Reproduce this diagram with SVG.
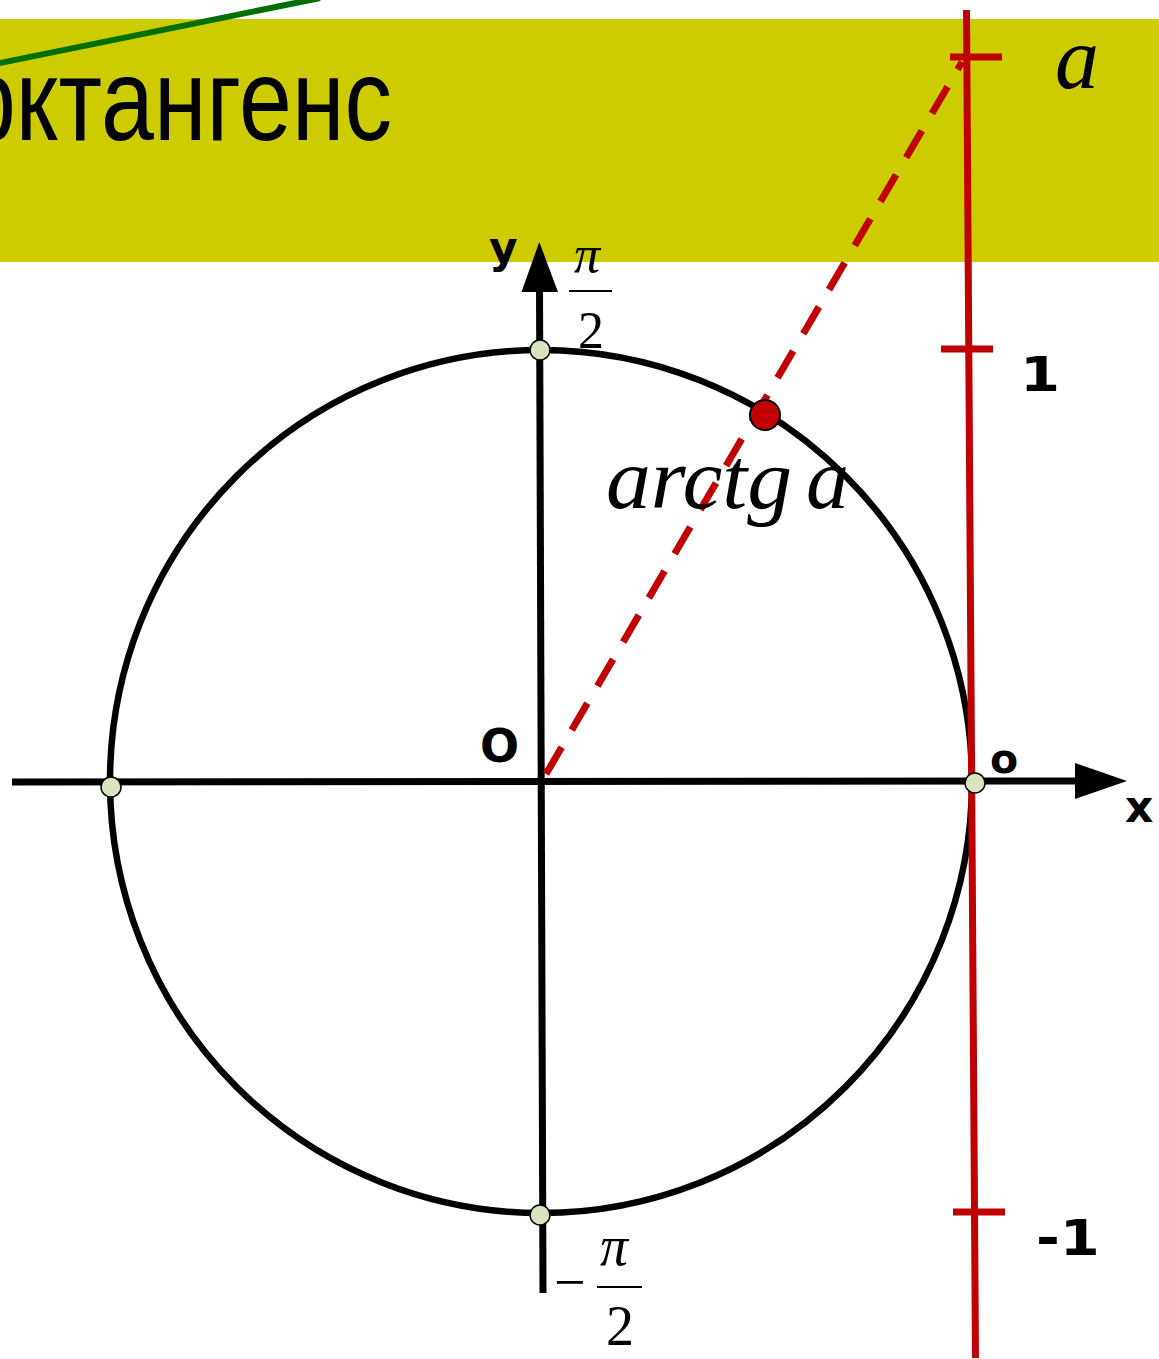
<svg xmlns="http://www.w3.org/2000/svg" width="1159" height="1359" viewBox="0 0 1159 1359">
<style>
.lbl{font-family:"DejaVu Sans",sans-serif;font-weight:bold;fill:#000}
.math{font-family:"Liberation Serif","Times New Roman",serif;fill:#000}
.it{font-style:italic}
.axis{stroke:#000;stroke-width:7;fill:none}
.red{stroke:#C00000;stroke-width:7;fill:none}
.pt{fill:#D7E4BD;stroke:#000;stroke-width:1.5}
.bar{stroke:#000;stroke-width:2}
</style>
<rect width="1159" height="1359" fill="#fff"/>
<g id="band">
<rect x="0" y="19" width="1159" height="243" fill="#CCCC00"/>
</g>
<g id="green-line">
<line x1="-10" y1="65" x2="320" y2="-2" stroke="#007000" stroke-width="6"/>
</g>
<g id="title">
<text transform="translate(392,140) scale(0.82,1)" text-anchor="end" font-family="Liberation Sans, Arial, sans-serif" font-size="116" fill="#000">рктангенс</text>
</g>
<g id="circle">
<ellipse cx="541" cy="781.5" rx="431" ry="431.5" fill="none" stroke="#000" stroke-width="6.5"/>
</g>
<g id="axes">
<line class="axis" x1="12" y1="782" x2="1080" y2="781"/>
<polygon points="1075,763 1127,781 1075,799" fill="#000"/>
<line class="axis" x1="543" y1="1293" x2="539.5" y2="285"/>
<polygon points="521.5,292 539.3,242 558,292" fill="#000"/>
</g>
<g id="connectors">
<line x1="546" y1="774" x2="962" y2="62" stroke="#C00000" stroke-width="7" stroke-dasharray="31 20"/>
</g>
<g id="tangent-line">
<line class="red" x1="966.5" y1="10" x2="975.5" y2="1358"/>
<line class="red" x1="950" y1="57" x2="1002" y2="57"/>
<line class="red" x1="941" y1="349" x2="993" y2="349"/>
<line class="red" x1="953" y1="1212" x2="1005" y2="1212"/>
</g>
<g id="points">
<circle class="pt" cx="540" cy="350" r="10"/>
<circle class="pt" cx="111" cy="787" r="10"/>
<circle class="pt" cx="975" cy="783" r="10"/>
<circle class="pt" cx="540" cy="1215" r="10"/>
<circle cx="765" cy="415" r="15" fill="#C00000" stroke="#000" stroke-width="2"/>
</g>
<g id="labels">
<text class="lbl" x="489" y="263" font-size="44">y</text>
<text class="lbl" x="1125" y="822" font-size="44">x</text>
<text class="lbl" x="480" y="762" font-size="46">O</text>
<text class="lbl" x="990" y="773" font-size="41">o</text>
<text class="lbl" transform="translate(1020,391) scale(1.2,1)" font-size="48">1</text>
<text class="lbl" transform="translate(1036,1255) scale(1.15,1)" font-size="50">-1</text>
<text class="math it" x="1055" y="88" font-size="88">a</text>
<text class="math it" y="508" font-size="86"><tspan x="606" textLength="186" lengthAdjust="spacingAndGlyphs">arctg</tspan><tspan x="806">a</tspan></text>
</g>
<g id="frac-top">
<text class="math it" x="587" y="272" font-size="52" text-anchor="middle">π</text>
<line class="bar" x1="569" y1="291" x2="612" y2="291"/>
<text class="math" x="591" y="348" font-size="52" text-anchor="middle">2</text>
</g>
<g id="frac-bottom">
<text class="math" x="554" y="1301" font-size="56">−</text>
<text class="math it" x="614" y="1265" font-size="56" text-anchor="middle">π</text>
<line class="bar" x1="597" y1="1287" x2="642" y2="1287"/>
<text class="math" x="620" y="1345" font-size="56" text-anchor="middle">2</text>
</g>
</svg>
